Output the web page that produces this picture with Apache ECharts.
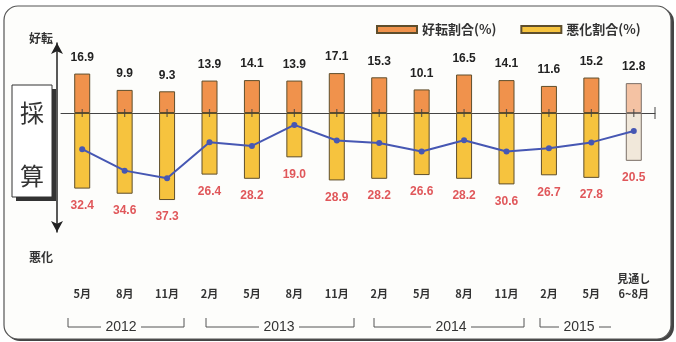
<!DOCTYPE html>
<html>
<head>
<meta charset="utf-8">
<script src="https://cdn.jsdelivr.net/npm/echarts@6/dist/echarts.min.js"></script>
<style>
html,body{margin:0;padding:0;background:#fff;}
#c{width:676px;height:342px;}
</style>
</head>
<body>
<div id="c"></div>
<script>
// ---- data ----
var categories = ['5月','8月','11月','2月','5月','8月','11月','2月','5月','8月','11月','2月','5月','見通し\n6~8月'];
var improve = [16.9, 9.9, 9.3, 13.9, 14.1, 13.9, 17.1, 15.3, 10.1, 16.5, 14.1, 11.6, 15.2, 12.8];
var worsen  = [32.4, 34.6, 37.3, 26.4, 28.2, 19.0, 28.9, 28.2, 26.6, 28.2, 30.6, 26.7, 27.8, 20.5];
var diLine  = [-15.5, -24.7, -28.0, -12.5, -14.1, -5.1, -11.8, -12.9, -16.5, -11.7, -16.5, -15.1, -12.6, -7.7];
var seriesNames = ['好転割合(%)', '悪化割合(%)'];
var years = ['2012', '2013', '2014', '2015'];

var FONT = '"Noto Sans CJK JP", "Liberation Sans", sans-serif';
var NUMFONT = '"Liberation Sans", Arial, sans-serif';
var last = categories.length - 1;

var improveData = improve.map(function (v, i) {
  var d = { value: v };
  if (i === last) d.itemStyle = { color: '#F4C2A3', borderColor: '#7a6e66' };
  return d;
});
var worsenData = worsen.map(function (v, i) {
  var d = { value: -v };
  if (i === last) d.itemStyle = { color: '#F1E8DA', borderColor: '#7a6e66' };
  return d;
});
var tickData = categories.map(function () { return 0; });

var chart = echarts.init(document.getElementById('c'));

function bracket(x1, x2, closed, label, lx) {
  var els = [];
  var y = 327, yt = 318;
  els.push({ type: 'line', shape: { x1: x1, y1: yt, x2: x1, y2: y }, style: { stroke: '#555', lineWidth: 1 } });
  els.push({ type: 'line', shape: { x1: x1, y1: y, x2: lx - 20, y2: y }, style: { stroke: '#555', lineWidth: 1 } });
  els.push({ type: 'line', shape: { x1: lx + 20, y1: y, x2: x2, y2: y }, style: { stroke: '#555', lineWidth: 1 } });
  if (closed) els.push({ type: 'line', shape: { x1: x2, y1: yt, x2: x2, y2: y }, style: { stroke: '#555', lineWidth: 1 } });
  els.push({ type: 'text', x: lx, y: y, style: { text: label, font: '14px ' + NUMFONT, fill: '#333', textAlign: 'center', textVerticalAlign: 'middle' } });
  return els;
}

var graphics = [
  { type: 'rect', z: -10, shape: { x: 6, y: 8, width: 668, height: 333, r: 14 }, style: { fill: '#444' } },
  { type: 'rect', z: -9, shape: { x: 4, y: 6, width: 667, height: 333, r: 14 }, style: { fill: '#fdfdfb', stroke: '#555', lineWidth: 1.2 } },
  { type: 'text', x: 41, y: 38, style: { text: '好転', font: 'bold 12px ' + FONT, fill: '#333', textAlign: 'center', textVerticalAlign: 'middle' } },
  { type: 'text', x: 41, y: 257, style: { text: '悪化', font: 'bold 12px ' + FONT, fill: '#333', textAlign: 'center', textVerticalAlign: 'middle' } },
  { type: 'rect', shape: { x: 16, y: 89, width: 40, height: 112 }, style: { fill: '#333' } },
  { type: 'rect', shape: { x: 12, y: 85, width: 40, height: 112 }, style: { fill: '#fff', stroke: '#333', lineWidth: 1 } },
  { type: 'text', x: 32, y: 113, style: { text: '採', font: '24px ' + FONT, fill: '#333', textAlign: 'center', textVerticalAlign: 'middle' } },
  { type: 'text', x: 32, y: 176, style: { text: '算', font: '24px ' + FONT, fill: '#333', textAlign: 'center', textVerticalAlign: 'middle' } },
  { type: 'line', shape: { x1: 655, y1: 107, x2: 655, y2: 119 }, style: { stroke: '#444', lineWidth: 1 } }
];
graphics = graphics
  .concat(bracket(68, 184, true, years[0], 121))
  .concat(bracket(206, 354, true, years[1], 279))
  .concat(bracket(374, 524, true, years[2], 451))
  .concat(bracket(540, 611, false, years[3], 579));

chart.setOption({
  backgroundColor: '#ffffff',
  animation: false,
  textStyle: { fontFamily: FONT },
  legend: {
    data: seriesNames,
    left: 371, top: 18,
    itemWidth: 40, itemHeight: 7, itemGap: 24,
    icon: 'rect',
    textStyle: { fontSize: 13, fontWeight: 'bold', color: '#333', fontFamily: FONT }
  },
  grid: { left: 61, right: 21, top: 43, bottom: 110, containLabel: false, outerBoundsMode: 'none' },
  xAxis: {
    type: 'category', data: categories, position: 'bottom',
    axisLine: { onZero: true, lineStyle: { color: '#444', width: 1 } },
    axisTick: { show: false },
    axisLabel: { margin: 69, verticalAlign: 'bottom', fontSize: 11, fontWeight: 'bold', color: '#333', lineHeight: 15, fontFamily: FONT, interval: 0 }
  },
  yAxis: {
    type: 'value', min: -51, max: 30, offset: 4,
    axisLine: { show: true, symbol: ['arrow', 'arrow'], symbolSize: [9, 11], lineStyle: { color: '#222', width: 1.5 } },
    axisTick: { show: false }, axisLabel: { show: false }, splitLine: { show: false }
  },
  series: [
    {
      name: seriesNames[0], type: 'bar', stack: 'a', barWidth: 16, data: improveData,
      itemStyle: { color: '#F0924C', borderColor: '#5e4e2c', borderWidth: 1 },
      label: { show: true, position: 'top', distance: 10, color: '#222', fontSize: 12, fontWeight: 'bold', fontFamily: NUMFONT,
        formatter: function (p) { return Math.abs(p.value).toFixed(1); } }
    },
    {
      name: seriesNames[1], type: 'bar', stack: 'a', barWidth: 16, data: worsenData,
      itemStyle: { color: '#F6C33E', borderColor: '#5e4e2c', borderWidth: 1 },
      label: { show: true, position: 'bottom', distance: 11, color: '#E0575A', fontSize: 12, fontWeight: 'bold', fontFamily: NUMFONT,
        formatter: function (p) { return Math.abs(p.value).toFixed(1); } }
    },
    {
      name: 'ticks', type: 'scatter', data: tickData, z: 4, silent: true,
      symbol: 'rect', symbolSize: [1.2, 8],
      itemStyle: { color: '#444' }
    },
    {
      name: 'DI', type: 'line', data: diLine, z: 5,
      symbol: 'circle', symbolSize: 6,
      lineStyle: { color: '#4657B3', width: 2 },
      itemStyle: { color: '#4657B3' }
    }
  ],
  graphic: graphics
});
</script>
</body>
</html>
